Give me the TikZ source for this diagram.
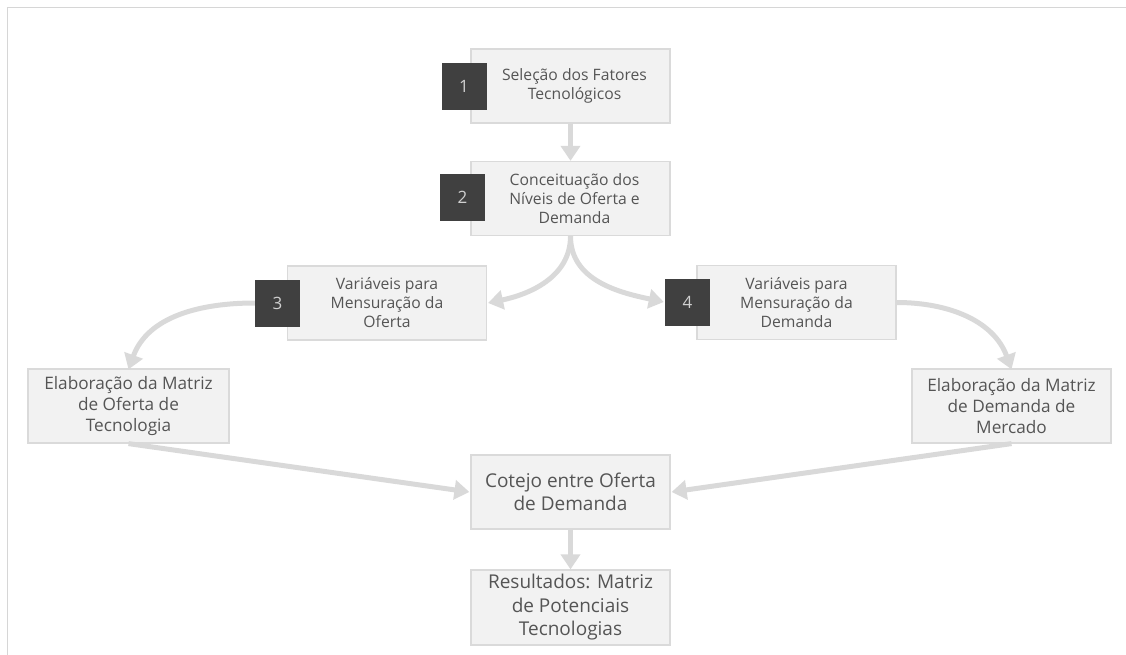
\documentclass[tikz,border=0pt]{standalone}
\usepackage{fontspec}
\setmainfont{Open Sans}
\usetikzlibrary{arrows.meta}
\definecolor{boxfill}{HTML}{F2F2F2}
\definecolor{boxline}{HTML}{DADADA}
\definecolor{badgefill}{HTML}{404040}
\definecolor{badgetext}{HTML}{D0D0D0}
\definecolor{txt}{HTML}{555555}
\definecolor{flow}{HTML}{D9D9D9}
\definecolor{frame}{HTML}{D6D6D6}
\tikzset{
  stepbox/.style={draw=boxline, line width=1.2pt, fill=boxfill, text=txt,
    align=center, inner sep=0pt, minimum width=199pt, minimum height=74pt,
    font=\fontsize{15.7}{19}\selectfont},
  midbox/.style={stepbox, font=\fontsize{17.2}{21}\selectfont},
  bigbox/.style={stepbox, font=\fontsize{19}{23.5}\selectfont},
  badge/.style={fill=badgefill, text=badgetext, inner sep=0pt,
    minimum width=45pt, minimum height=47pt, font=\fontsize{17}{17}\selectfont},
  flowarrow/.style={draw=flow, line width=5pt,
    -{Triangle[length=15pt, width=19pt]}},
}
\begin{document}
\begin{tikzpicture}[x=1pt, y=-1pt]
\useasboundingbox (0,0) rectangle (1126,655);
% outer frame (top and left edges only)
\draw[frame, line width=1.5pt] (7.5,655) -- (7.5,7.5) -- (1126,7.5);

% process steps
\node[stepbox] (s1) at (570.5,86) {\hspace*{8pt}Seleção dos Fatores\\\hspace*{8pt}Tecnológicos};
\node[stepbox] (s2) at (570.5,198.5) {\hspace*{8pt}Conceituação dos\\\hspace*{8pt}Níveis de Oferta e\\\hspace*{8pt}Demanda};
\node[stepbox] (s3) at (387,303) {Variáveis para\\Mensuração da\\Oferta};
\node[stepbox] (s4) at (796.5,302.5) {Variáveis para\\Mensuração da\\Demanda};
\node[midbox, minimum width=201pt] (s5) at (128.5,406) {Elaboração da Matriz\\de Oferta de\\Tecnologia};
\node[midbox] (s6) at (1011.5,406) {Elaboração da Matriz\\de Demanda de\\Mercado};
\node[bigbox] (s7) at (570.5,492) {Cotejo entre Oferta\\de Demanda};
\node[bigbox, minimum height=75pt] (s8) at (570.5,607.5) {Resultados: Matriz\\de Potenciais\\Tecnologias};

% numbered badges
\node[badge] (n1) at (464,86.5) {1};
\node[badge] (n2) at (462.5,197.5) {2};
\node[badge] (n3) at (277.5,303) {3};
\node[badge] (n4) at (687.5,302) {4};

% connectors
\draw[flowarrow] (s1.south) -- (s2.north);
\draw[flowarrow] (s2.south) to[out=-90, in=12] ([xshift=1pt]s3.east);
\draw[flowarrow] (s2.south) to[out=-90, in=168] ([xshift=-1pt]n4.west);
\draw[flowarrow] (n3.west) to[out=180, in=70] ([yshift=-1pt]s5.north);
\draw[flowarrow] (s4.east) to[out=0, in=110] ([yshift=-1pt]s6.north);
\draw[flowarrow] (s5.south) -- ([xshift=-1pt]s7.west);
\draw[flowarrow] (s6.south) -- ([xshift=1pt]s7.east);
\draw[flowarrow] (s7.south) -- (s8.north);
\end{tikzpicture}
\end{document}
